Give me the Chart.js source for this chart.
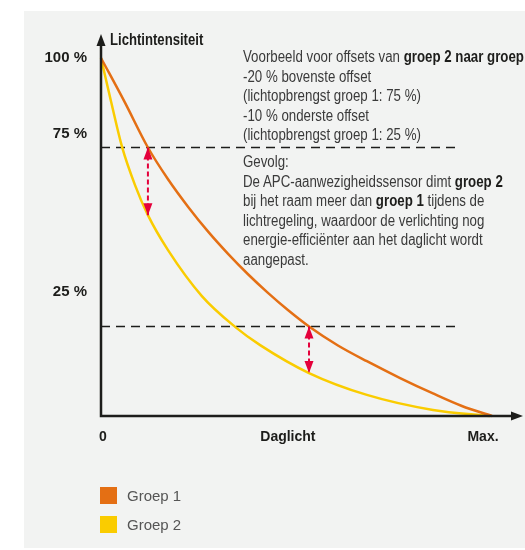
<!DOCTYPE html>
<html>
<head>
    <title>Lichtintensiteit groep 1 en groep 2</title>
    <script src="https://cdn.jsdelivr.net/npm/chart.js"></script>
    <style>
        body { margin: 0; background: #fff; }
        #wrap { position: relative; width: 525px; height: 550px; overflow: hidden; }
        #panel { position: absolute; left: 24px; top: 11px; width: 501px; height: 537px; background: #f2f3f2; }
        #myChart { position: absolute; left: 0; top: 0; }
        .note { position: absolute; left: 243px; font-family: 'Liberation Sans', Arial, sans-serif;
                font-size: 16px; line-height: 19.5px; color: #3a3a3a; white-space: nowrap;
                transform: scaleX(0.83); transform-origin: 0 0; }
        .note b { color: #1d1d1b; }
        #legend { position: absolute; left: 100px; top: 487px; font-family: 'Liberation Sans', Arial, sans-serif; font-size: 15px; color: #555; }
        #legend div { display: flex; align-items: center; height: 17px; margin-bottom: 12px; }
        #legend span.box { display: inline-block; width: 17px; height: 17px; margin-right: 10px; }
    </style>
</head>
<body>
<div id="wrap">
    <div id="panel"></div>
    <canvas id="myChart" width="525" height="550"></canvas>
    <div class="note" style="top: 47px;">
        Voorbeeld voor offsets van <b>groep 2 naar groep 1:</b><br>
        -20 % bovenste offset<br>
        (lichtopbrengst groep 1: 75 %)<br>
        -10 % onderste offset<br>
        (lichtopbrengst groep 1: 25 %)
    </div>
    <div class="note" style="top: 152px;">
        Gevolg:<br>
        De APC-aanwezigheidssensor dimt <b>groep 2</b><br>
        bij het raam meer dan <b>groep 1</b> tijdens de<br>
        lichtregeling, waardoor de verlichting nog<br>
        energie-efficiënter aan het daglicht wordt<br>
        aangepast.
    </div>
    <div id="legend"></div>
</div>

<script>
    // values: x = daglicht (0 .. 100 = Max.), y = lichtintensiteit in %
    var groep1X = [0, 6.1, 12, 17.1, 22.3, 27.4, 32.5, 37.6, 42.7, 47.8, 53.2, 60.6, 68, 76.5, 84.9, 92.3, 100];
    var groep1Y = [100, 87.6, 75, 66.2, 58.4, 51.5, 45.3, 39.6, 34.4, 29.6, 25, 19.7, 15.3, 10.6, 6.3, 2.8, 0];
    var groep2X = [0, 2.6, 5.4, 8.7, 12, 17.1, 25.8, 34.3, 40.7, 53.2, 68, 84.9, 99.5];
    var groep2Y = [100, 87.7, 75.1, 64.5, 56.1, 46.4, 33.5, 24.9, 19.8, 12, 5.9, 1.7, 0];

    // dashed offset levels and the red arrows between the curves
    var offsetLevels = [75, 25];
    var offsetEndX = 91.8;
    var arrowX = [12, 53.2];
    var arrowTop = [75, 25];
    var arrowBottom = [56.1, 12];

    var xTickPos = [0.5, 47.8, 97.7];
    var xTickLabels = ['0', 'Daglicht', 'Max.'];
    var yTickPos = [100, 78.8, 34.6];
    var yTickLabels = ['100 %', '75 %', '25 %'];

    var SANS = "'Liberation Sans', Arial, sans-serif";
    var INK = '#1d1d1b';
    var ORANGE = '#E46F14';
    var YELLOW = '#FACC00';
    var RED = '#E4003B';

    function pts(xs, ys) {
        return xs.map(function (x, i) { return { x: x, y: ys[i] }; });
    }

    var datasets = [];
    arrowX.forEach(function (x, i) {
        datasets.push({ label: 'offset ' + (i + 1), data: pts([x, x], [arrowTop[i], arrowBottom[i]]),
            borderColor: RED, borderWidth: 2, borderDash: [5, 3], pointRadius: 0, arrowHeads: true, clip: false });
    });
    datasets.push({ label: 'Groep 1', data: pts(groep1X, groep1Y), borderColor: ORANGE, backgroundColor: ORANGE,
        borderWidth: 2.5, pointRadius: 0, cubicInterpolationMode: 'monotone', inLegend: true, clip: false });
    datasets.push({ label: 'Groep 2', data: pts(groep2X, groep2Y), borderColor: YELLOW, backgroundColor: YELLOW,
        borderWidth: 2.5, pointRadius: 0, cubicInterpolationMode: 'monotone', inLegend: true, clip: false });
    offsetLevels.forEach(function (v) {
        datasets.push({ label: v + ' %', data: pts([0, offsetEndX], [v, v]),
            borderColor: INK, borderWidth: 1.4, borderDash: [9, 6], pointRadius: 0, clip: false });
    });

    // axes with arrow heads, axis title and arrow heads on the red offset arrows
    var axesPlugin = {
        id: 'axesArrows',
        afterDatasetsDraw: function (chart) {
            var ctx = chart.ctx, a = chart.chartArea;
            ctx.save();
            ctx.strokeStyle = INK;
            ctx.fillStyle = INK;
            ctx.lineWidth = 2.5;
            ctx.beginPath();
            ctx.moveTo(a.left, a.top - 16);
            ctx.lineTo(a.left, a.bottom);
            ctx.lineTo(a.right + 22, a.bottom);
            ctx.stroke();
            ctx.beginPath();
            ctx.moveTo(a.left, a.top - 24);
            ctx.lineTo(a.left - 4.5, a.top - 12);
            ctx.lineTo(a.left + 4.5, a.top - 12);
            ctx.fill();
            ctx.beginPath();
            ctx.moveTo(a.right + 31, a.bottom);
            ctx.lineTo(a.right + 19, a.bottom - 4.5);
            ctx.lineTo(a.right + 19, a.bottom + 4.5);
            ctx.fill();

            // condensed axis title
            ctx.save();
            ctx.translate(a.left + 9, a.top - 17);
            ctx.scale(0.82, 1);
            ctx.font = 'bold 16px ' + SANS;
            ctx.textBaseline = 'middle';
            ctx.textAlign = 'left';
            ctx.fillText('Lichtintensiteit', 0, 0);
            ctx.restore();

            chart.data.datasets.forEach(function (ds, i) {
                if (!ds.arrowHeads) return;
                var el = chart.getDatasetMeta(i).data;
                var p0 = el[0], p1 = el[el.length - 1];
                [[p0, p1], [p1, p0]].forEach(function (pair) {
                    var tip = pair[0], other = pair[1];
                    var dx = other.x - tip.x, dy = other.y - tip.y;
                    var len = Math.sqrt(dx * dx + dy * dy) || 1;
                    dx /= len; dy /= len;
                    ctx.fillStyle = ds.borderColor;
                    ctx.beginPath();
                    ctx.moveTo(tip.x, tip.y);
                    ctx.lineTo(tip.x + dx * 12 - dy * 4.5, tip.y + dy * 12 + dx * 4.5);
                    ctx.lineTo(tip.x + dx * 12 + dy * 4.5, tip.y + dy * 12 - dx * 4.5);
                    ctx.fill();
                });
            });
            ctx.restore();
        }
    };

    var ctx = document.getElementById('myChart').getContext('2d');
    var myChart = new Chart(ctx, {
        type: 'line',
        data: { datasets: datasets },
        options: {
            responsive: false,
            animation: false,
            layout: { padding: { left: 0, right: 33, top: 58, bottom: 0 } },
            plugins: { legend: { display: false }, tooltip: { enabled: false } },
            scales: {
                x: {
                    type: 'linear', min: 0, max: 100,
                    grid: { display: false, drawTicks: false },
                    border: { display: false },
                    afterBuildTicks: function (s) { s.ticks = xTickPos.map(function (v) { return { value: v }; }); },
                    afterFit: function (s) { s.height = 134; },
                    ticks: {
                        autoSkip: false, maxRotation: 0, padding: 13, color: INK,
                        font: { family: SANS, size: 14, weight: 'bold' },
                        callback: function (v, i) { return xTickLabels[i]; }
                    }
                },
                y: {
                    type: 'linear', min: 0, max: 100,
                    grid: { display: false, drawTicks: false },
                    border: { display: false },
                    afterBuildTicks: function (s) { s.ticks = yTickPos.map(function (v) { return { value: v }; }); },
                    afterFit: function (s) { s.width = 101; },
                    ticks: {
                        autoSkip: false, padding: 14, color: INK,
                        font: { family: SANS, size: 15, weight: 'bold' },
                        callback: function (v, i) { return yTickLabels[i]; }
                    }
                }
            }
        },
        plugins: [axesPlugin]
    });

    // html legend for the two groups
    var legend = document.getElementById('legend');
    myChart.data.datasets.forEach(function (ds) {
        if (!ds.inLegend) return;
        var row = document.createElement('div');
        var box = document.createElement('span');
        box.className = 'box';
        box.style.background = ds.borderColor;
        row.appendChild(box);
        row.appendChild(document.createTextNode(ds.label));
        legend.appendChild(row);
    });
</script>
</body>
</html>
